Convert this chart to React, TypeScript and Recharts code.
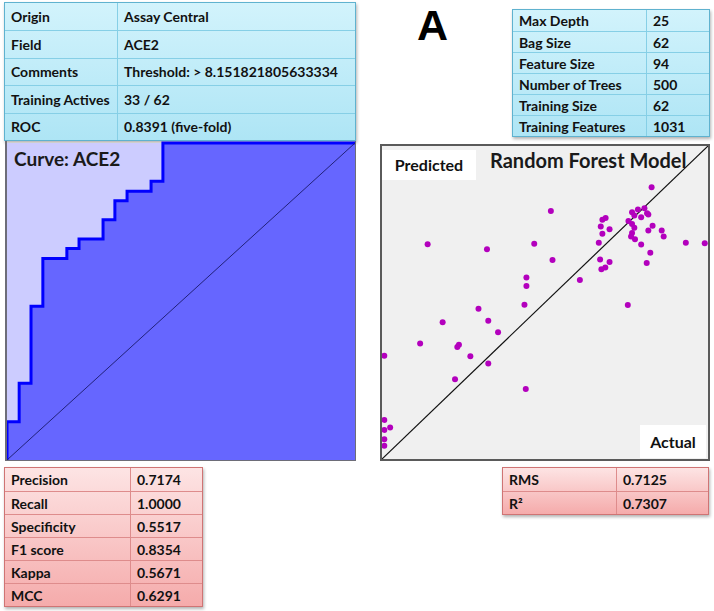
import React from "react";
import {
  ComposedChart,
  Area,
  ScatterChart,
  Scatter,
  XAxis,
  YAxis,
  ReferenceLine,
  CartesianGrid,
} from "recharts";

// model info (top left)
const infoLabels = ["Origin", "Field", "Comments", "Training Actives", "ROC"];
const infoValues = [
  "Assay Central",
  "ACE2",
  "Threshold: > 8.151821805633334",
  "33 / 62",
  "0.8391 (five-fold)",
];

// forest params (top right)
const paramLabels = [
  "Max Depth",
  "Bag Size",
  "Feature Size",
  "Number of Trees",
  "Training Size",
  "Training Features",
];
const paramValues = ["25", "62", "94", "500", "62", "1031"];

// classification metrics (bottom left)
const metricLabels = ["Precision", "Recall", "Specificity", "F1 score", "Kappa", "MCC"];
const metricValues = ["0.7174", "1.0000", "0.5517", "0.8354", "0.5671", "0.6291"];

// regression metrics (bottom right)
const regLabels = ["RMS", "R²"];
const regValues = ["0.7125", "0.7307"];

// ROC curve corners (stepBefore: up first, then across)
const rocFpr = [0, 0.035, 0.069, 0.103, 0.172, 0.207, 0.276, 0.31, 0.345, 0.414, 0.448, 1];
const rocTpr = [0, 0.121, 0.242, 0.485, 0.636, 0.667, 0.697, 0.758, 0.818, 0.848, 0.879, 1];

// actual vs predicted (scaled 0..1)
const actualValues = [
  0.827, 0.518, 0.785, 0.805, 0.767, 0.813, 0.817, 0.774, 0.795, 0.676, 0.686,
  0.671, 0.698, 0.676, 0.756, 0.767, 0.774, 0.83, 0.817, 0.858, 0.864, 0.767,
  0.764, 0.776, 0.14, 0.322, 0.467, 0.665, 0.795, 0.932, 0.99, 0.523, 0.669,
  0.698, 0.685, 0.673, 0.823, 0.812, 0.443, 0.443, 0.607, 0.437, 0.754, 0.296,
  0.186, 0.326, 0.356, 0.117, 0.231, 0.236, 0.271, 0.007, 0.326, 0.224, 0.441,
  0.007, 0.025, 0.007, 0.007, 0.007,
];
const predictedValues = [
  0.868, 0.792, 0.797, 0.801, 0.788, 0.785, 0.781, 0.778, 0.772, 0.764, 0.77,
  0.743, 0.734, 0.72, 0.76, 0.751, 0.739, 0.745, 0.73, 0.73, 0.711, 0.722,
  0.711, 0.702, 0.686, 0.67, 0.688, 0.691, 0.685, 0.691, 0.689, 0.636, 0.637,
  0.629, 0.612, 0.606, 0.659, 0.626, 0.58, 0.553, 0.572, 0.493, 0.492, 0.48,
  0.437, 0.442, 0.405, 0.369, 0.358, 0.365, 0.328, 0.33, 0.305, 0.255, 0.224,
  0.125, 0.101, 0.093, 0.063, 0.042,
];

const rocData = rocFpr.map((x, i) => ({ fpr: x, tpr: rocTpr[i] }));
const scatterData = actualValues.map((a, i) => ({ actual: a, predicted: predictedValues[i] }));

const FONT = "Lato, 'Open Sans', sans-serif";

function InfoTable({
  labels,
  values,
  left,
  top,
  width,
  col1,
  rowH,
  theme,
}: {
  labels: string[];
  values: string[];
  left: number;
  top: number;
  width: number;
  col1: number;
  rowH: number;
  theme: "blue" | "red";
}) {
  const blue = theme === "blue";
  const line = blue ? "#86cfe6" : "#de8c8c";
  const outer = blue ? "#5fb2cf" : "#cf7474";
  const bg = blue
    ? "linear-gradient(#d2f3fc, #aee5f5)"
    : "linear-gradient(#fde4e4, #f5abab)";
  return (
    <div
      style={{
        position: "absolute",
        left,
        top,
        width,
        border: `1px solid ${outer}`,
        background: bg,
        boxShadow: "1px 2px 3px rgba(0,0,0,0.3)",
        fontFamily: FONT,
        fontWeight: 700,
        fontSize: 14,
        color: "#111",
        boxSizing: "border-box",
      }}
    >
      {labels.map((l, i) => (
        <div
          key={l}
          style={{
            display: "flex",
            height: rowH,
            borderTop: i ? `1px solid ${line}` : "none",
            boxSizing: "border-box",
            alignItems: "center",
          }}
        >
          <div
            style={{
              width: col1,
              height: "100%",
              borderRight: `1px solid ${line}`,
              paddingLeft: 6,
              display: "flex",
              alignItems: "center",
              boxSizing: "border-box",
              whiteSpace: "nowrap",
            }}
          >
            {l}
          </div>
          <div style={{ paddingLeft: 6, whiteSpace: "nowrap" }}>{values[i]}</div>
        </div>
      ))}
    </div>
  );
}

function Dot(props: any) {
  return <circle cx={props.cx} cy={props.cy} r={3} fill="#b300bd" />;
}

export default function App() {
  return (
    <div
      style={{
        position: "absolute",
        left: 0,
        top: 0,
        width: 714,
        height: 611,
        background: "#fff",
        overflow: "hidden",
      }}
    >
      <InfoTable
        labels={infoLabels}
        values={infoValues}
        left={4}
        top={2}
        width={352}
        col1={113}
        rowH={27.4}
        theme="blue"
      />
      <InfoTable
        labels={paramLabels}
        values={paramValues}
        left={512}
        top={9}
        width={198}
        col1={134}
        rowH={21}
        theme="blue"
      />
      <InfoTable
        labels={metricLabels}
        values={metricValues}
        left={4}
        top={467}
        width={199}
        col1={126}
        rowH={23}
        theme="red"
      />
      <InfoTable
        labels={regLabels}
        values={regValues}
        left={502}
        top={467}
        width={207}
        col1={114}
        rowH={23}
        theme="red"
      />

      <div
        style={{
          position: "absolute",
          left: 417,
          top: 1,
          fontFamily: "'Liberation Sans', Arial, sans-serif",
          fontWeight: 700,
          fontSize: 43,
          lineHeight: "48px",
          color: "#000",
        }}
      >
        A
      </div>

      {/* ROC curve */}
      <div
        style={{
          position: "absolute",
          left: 5,
          top: 141,
          width: 351,
          height: 320,
          borderLeft: "2px solid #6d6d78",
          borderRight: "1px solid #6d6d78",
          borderBottom: "1px solid #6d6d78",
          boxSizing: "border-box",
        }}
      >
        <ComposedChart
          width={348}
          height={319}
          data={rocData}
          margin={{ top: 2, right: 0, bottom: 0, left: 0 }}
        >
          <CartesianGrid fill="#ccccff" stroke="none" />
          <XAxis dataKey="fpr" type="number" domain={[0, 1]} hide />
          <YAxis type="number" domain={[0, 1]} hide />
          <Area
            dataKey="tpr"
            type="stepBefore"
            stroke="#0000ff"
            strokeWidth={3}
            fill="#6666ff"
            fillOpacity={1}
            dot={false}
            activeDot={false}
            isAnimationActive={false}
          />
          <ReferenceLine
            segment={[
              { x: 0, y: 0 },
              { x: 1, y: 1 },
            ]}
            stroke="#22227a"
            strokeWidth={1}
          />
        </ComposedChart>
        <div
          style={{
            position: "absolute",
            left: 7,
            top: 8,
            fontFamily: FONT,
            fontWeight: 700,
            fontSize: 19,
            lineHeight: "20px",
            color: "#1a1a1a",
          }}
        >
          Curve: ACE2
        </div>
      </div>

      {/* Random forest actual vs predicted */}
      <div
        style={{
          position: "absolute",
          left: 380,
          top: 144,
          width: 330,
          height: 317,
          border: "2px solid #5a5a5a",
          boxSizing: "border-box",
          background: "#f0f0f0",
        }}
      >
        <ScatterChart
          width={326}
          height={313}
          margin={{ top: 0, right: 0, bottom: 0, left: 0 }}
        >
          <XAxis dataKey="actual" type="number" domain={[0, 1]} hide />
          <YAxis dataKey="predicted" type="number" domain={[0, 1]} hide />
          <ReferenceLine
            segment={[
              { x: 0, y: 0 },
              { x: 1, y: 1 },
            ]}
            stroke="#111"
            strokeWidth={1.2}
          />
          <Scatter
            data={scatterData}
            shape={<Dot />}
            isAnimationActive={false}
          />
        </ScatterChart>
        <div
          style={{
            position: "absolute",
            left: 0,
            top: 4,
            width: 94,
            height: 30,
            background: "#fff",
            fontFamily: FONT,
            fontWeight: 700,
            fontSize: 16,
            lineHeight: "30px",
            textAlign: "center",
            color: "#111",
          }}
        >
          Predicted
        </div>
        <div
          style={{
            position: "absolute",
            left: 108,
            top: 3,
            fontFamily: FONT,
            fontWeight: 700,
            fontSize: 20,
            lineHeight: "22px",
            color: "#1a1a1a",
          }}
        >
          Random Forest Model
        </div>
        <div
          style={{
            position: "absolute",
            left: 258,
            top: 279,
            width: 66,
            height: 33,
            background: "#fff",
            fontFamily: FONT,
            fontWeight: 700,
            fontSize: 16,
            lineHeight: "33px",
            textAlign: "center",
            color: "#111",
          }}
        >
          Actual
        </div>
      </div>
    </div>
  );
}
